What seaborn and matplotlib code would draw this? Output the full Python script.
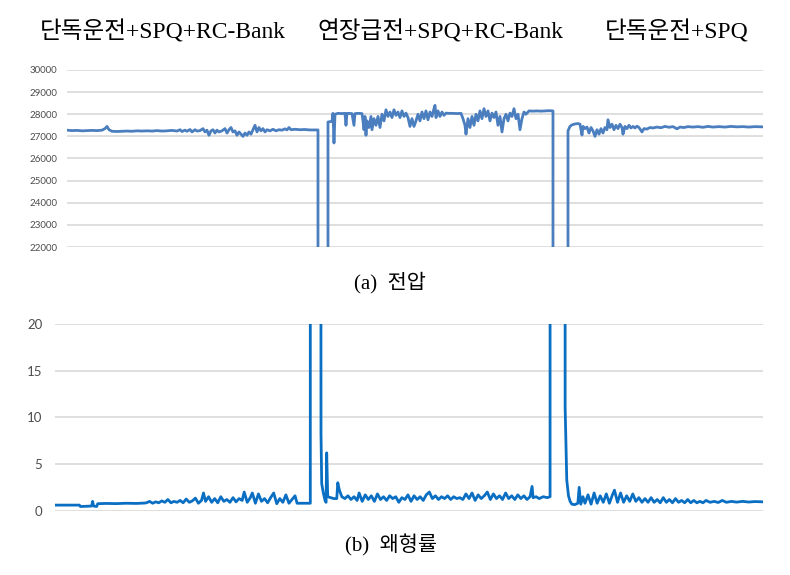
import numpy as np
import pandas as pd
import matplotlib
matplotlib.use("Agg")
import matplotlib.pyplot as plt
import seaborn as sns

sns.set_theme(style="white")
plt.rcParams['font.family'] = ['Liberation Serif', 'Noto Sans CJK KR', 'DejaVu Sans']

# -----------------------------
# Data
# -----------------------------
titles = ["단독운전+SPQ+RC-Bank", "연장급전+SPQ+RC-Bank", "단독운전+SPQ"]
caption_a = "(a)  전압"
caption_b = "(b)  왜형률"

volt_ticks = [22000, 23000, 24000, 25000, 26000, 27000, 28000, 29000, 30000]
thd_ticks = [0, 5, 10, 15, 20]

# voltage [V]; 0 = supply interrupted (drawn off the bottom of the axis)
volt_t = [0, 5, 10, 15, 20, 25, 30, 35, 38, 40, 42, 45, 50, 55, 60, 65, 70, 75, 80, 85,
          90, 95, 100, 105, 110, 113, 115, 118, 120, 123, 125, 128, 130, 133, 136, 138, 140, 142, 144, 146,
          148, 150, 152, 155, 158, 160, 162, 164, 166, 168, 170, 172, 174, 176, 178, 180, 182, 184, 186, 188,
          190, 192, 194, 196, 198, 200, 203, 206, 209, 212, 215, 218, 220, 222, 224, 228, 233, 238, 243, 251,
          251, 261,
          261, 265, 266, 267, 268, 271, 275, 278, 279, 280, 285, 287, 288, 292, 295, 296, 297, 298, 299, 300,
          302, 304, 305, 307, 309, 311, 313, 315, 317, 319, 321, 323, 325, 327, 329, 331, 333, 335, 337, 339,
          341, 343, 345, 347, 349, 351, 353, 355, 357, 359, 361, 363, 365, 367, 368, 369, 371, 373, 375, 377,
          379, 382, 386, 390, 394, 396, 398, 399, 401, 403, 405, 407, 409, 411, 413, 415, 417, 419, 421, 423,
          425, 427, 429, 431, 433, 435, 437, 439, 441, 443, 445, 447, 449, 451, 453, 455, 457, 459, 462, 466,
          470, 474, 478, 482, 486,
          486, 501,
          501, 503, 505, 508, 511, 513, 514, 515, 516, 518, 520, 522, 524, 526, 528, 530, 532, 534, 536, 538,
          540, 541, 543, 545, 547, 549, 551, 553, 555, 556, 558, 560, 562, 564, 566, 568, 570, 572, 575, 577,
          580, 583, 586, 590, 594, 598, 602, 606, 610, 613, 617, 621, 626, 631, 636, 641, 646, 652, 658, 664,
          670, 676, 682, 688, 696]
volt_v = [27280, 27260, 27270, 27250, 27260, 27270, 27260, 27280, 27350, 27450, 27300, 27230, 27220, 27230, 27240, 27230, 27250, 27240, 27250, 27240,
          27260, 27240, 27250, 27270, 27240, 27300, 27220, 27280, 27230, 27310, 27200, 27300, 27240, 27260, 27350, 27200, 27280, 27050, 27250, 27300,
          27150, 27280, 27200, 27250, 27350, 27150, 27300, 27400, 27200, 27250, 27050, 27200, 27100, 27000, 27150, 27050, 27200, 27100, 27300, 27500,
          27200, 27400, 27250, 27350, 27200, 27300, 27250, 27320, 27250, 27300, 27280, 27340, 27290, 27400, 27300, 27320, 27300, 27310, 27290, 27290,
          0, 0,
          27650, 27680, 28040, 26700, 28000, 28040, 28030, 28040, 27500, 28040, 28030, 27500, 28030, 28040, 28030, 27700, 27300, 27900, 27050, 27700,
          27400, 27900, 27300, 27800, 27500, 27900, 27400, 28000, 27700, 28200, 27900, 28100, 27850, 28200, 27950, 28100, 27850, 28150, 27900, 28050,
          27850, 27450, 27800, 27450, 27700, 28000, 27700, 28100, 27800, 28150, 27750, 28100, 27900, 28250, 28400, 27850, 28150, 27900, 28100, 27950,
          28050, 28040, 28040, 28030, 28040, 27800, 27500, 27100, 27800, 27400, 27900, 27500, 28000, 27700, 28150, 27800, 28250, 27900, 28150, 27700,
          28050, 27850, 28100, 27500, 27900, 27200, 27800, 28000, 27700, 28050, 27900, 28250, 27800, 28000, 27300, 27800, 28100, 28000, 28150, 28140,
          28150, 28140, 28150, 28160, 28150,
          0, 0,
          27250, 27450, 27520, 27560, 27580, 27550, 27300, 27060, 27450, 27350, 27420, 27150, 27400, 27250, 27000, 27300, 27100, 27350, 27150, 27400,
          27300, 27750, 27400, 27550, 27300, 27500, 27350, 27550, 27400, 27100, 27450, 27350, 27500, 27380, 27450, 27380, 27460, 27400, 27200, 27350,
          27330, 27400, 27380, 27420, 27390, 27450, 27410, 27440, 27340, 27420, 27400, 27440, 27420, 27440, 27410, 27450, 27420, 27440, 27420, 27450,
          27430, 27440, 27420, 27440, 27430]

# total harmonic distortion [%]; 100 = off the top of the axis during interruption
thd_t = [0, 24, 25, 36, 37, 38, 41, 42, 50, 60, 70, 80, 88,
         90, 93, 96, 99, 102, 105, 108, 111, 114, 117, 120, 123, 126, 129, 132, 135, 138, 141, 144, 146,
         148, 151, 154, 157, 160, 163, 166, 169, 172, 175, 178, 181, 184, 186, 189, 192, 194, 197, 200, 203,
         206, 209, 212, 215, 218, 221, 224, 227, 230, 233, 236, 238, 242, 251,
         251, 261.2,
         261.5, 262.2, 263.8, 265.5, 266.5, 267.1, 268.1, 271, 274, 277, 278, 279.6, 282,
         285, 288, 291, 294, 297, 299, 302, 305, 308, 311, 314, 317, 320, 323, 326, 329, 332, 335, 338, 341,
         344, 347, 350, 353, 356, 359, 362, 365, 368, 371, 374, 377, 380, 383, 386, 389, 392, 395, 398, 401,
         404, 407, 410, 413, 416, 419, 422, 425, 428, 431, 434, 437, 440, 443, 446, 449, 452, 455, 458, 461,
         464, 467, 469, 470, 473, 476, 480, 484, 486.7,
         486.7, 501.5,
         501.5, 503.1, 504.8, 506.4, 508.1, 511, 514, 515.3, 516.9, 519, 521, 524, 527, 530, 533, 536, 539, 542,
         545, 548, 550, 553, 556, 559, 562, 565, 568, 571, 574, 577, 580, 583, 586, 589, 592, 595, 598, 601,
         604, 607, 610, 613, 616, 619, 622, 625, 628, 631, 634, 637, 640, 644, 648, 652, 656, 660, 665, 670,
         676, 682, 688, 696]
thd_v = [0.6, 0.6, 0.45, 0.5, 1.0, 0.5, 0.45, 0.75, 0.78, 0.76, 0.8, 0.78, 0.82,
         0.85, 1.0, 0.8, 0.95, 0.85, 1.05, 0.9, 1.2, 0.85, 1.0, 0.9, 1.1, 0.85, 1.25, 0.9, 1.05, 1.35, 0.8, 1.1, 1.9,
         1.0, 1.5, 0.9, 1.3, 0.85, 1.5, 1.0, 1.2, 0.9, 1.4, 0.95, 1.3, 1.1, 2.0, 0.9, 1.4, 1.9, 0.8, 1.8, 1.0,
         1.3, 0.85, 1.4, 1.9, 0.75, 1.3, 0.9, 1.7, 0.8, 1.2, 1.6, 0.8, 0.8, 0.8,
         100, 100,
         8.3, 2.9, 1.9, 1.1, 0.9, 6.2, 1.5, 1.4, 1.3, 1.3, 3.0, 2.2, 1.5,
         1.3, 1.6, 1.2, 1.5, 1.1, 1.9, 1.0, 1.7, 1.2, 1.6, 1.0, 1.8, 1.2, 1.5, 1.1, 1.6, 1.3, 1.5, 0.9, 1.4,
         1.2, 1.7, 1.0, 1.6, 1.2, 1.5, 1.1, 1.7, 2.0, 1.3, 1.6, 1.2, 1.5, 1.3, 1.6, 1.2, 1.5, 1.3, 1.4, 1.2,
         1.8, 1.3, 1.9, 1.1, 1.7, 1.3, 1.6, 2.0, 1.2, 1.8, 1.3, 1.6, 1.2, 1.9, 1.3, 1.6, 1.2, 1.7, 1.3, 1.6,
         1.2, 1.5, 2.6, 1.4, 1.5, 1.3, 1.5, 1.4, 1.5,
         100, 100,
         11.1, 3.3, 1.6, 1.0, 0.7, 0.65, 0.8, 2.5, 0.7, 1.5, 0.8, 1.7, 0.7, 1.9, 0.8, 1.6, 0.9, 1.8,
         0.8, 1.7, 2.2, 0.9, 1.9, 0.9, 1.6, 1.0, 1.8, 1.0, 1.4, 0.9, 1.3, 0.9, 1.4, 0.9, 1.2, 0.85, 1.4, 0.9,
         1.2, 0.85, 1.3, 0.9, 1.1, 0.85, 1.2, 0.85, 1.1, 0.85, 1.0, 0.85, 1.1, 0.9, 1.0, 0.88, 1.1, 0.9, 1.0, 0.92,
         1.0, 0.93, 0.98, 0.95]

df_volt = pd.DataFrame({"t": volt_t, "V": volt_v})
df_thd = pd.DataFrame({"t": thd_t, "THD": thd_v})

# -----------------------------
# Figure
# -----------------------------
fig = plt.figure(figsize=(7.9, 5.75), dpi=100)
ax1 = fig.add_axes([0.0848, 0.5704, 0.881, 0.3079])
ax2 = fig.add_axes([0.0696, 0.1118, 0.8962, 0.3247])

grid_col = "#d9d9d9"
tick_col = "#4d4d4d"

# (a) voltage
sns.lineplot(data=df_volt, x="t", y="V", ax=ax1, estimator=None, sort=False,
             color="#4a7ebf", lw=2.0)
ax1.set_ylim(22000, 30000)
ax1.set_xlim(0, 696)
ax1.set_yticks(volt_ticks)
ax1.tick_params(axis="y", labelsize=7, colors=tick_col, length=0, pad=7)
for lab in ax1.get_yticklabels():
    lab.set_family("Lato")

# (b) THD
sns.lineplot(data=df_thd, x="t", y="THD", ax=ax2, estimator=None, sort=False,
             color="#0a6fc2", lw=2.0)
ax2.set_ylim(0, 20)
ax2.set_xlim(0, 696)
ax2.set_yticks(thd_ticks)
ax2.tick_params(axis="y", labelsize=9.5, colors=tick_col, length=0, pad=9)
for lab in ax2.get_yticklabels():
    lab.set_family("Lato")

for ax in (ax1, ax2):
    ax.set_xticks([])
    ax.set_xlabel("")
    ax.set_ylabel("")
    ax.yaxis.grid(True, color=grid_col, lw=1.2)
    ax.set_axisbelow(True)
    for s in ax.spines.values():
        s.set_visible(False)

# headings over the three operating intervals
for x, txt in zip([0.206, 0.557, 0.856], titles):
    fig.text(x, 0.944, txt, ha="center", va="center", fontsize=17, color="black")

fig.text(0.494, 0.508, caption_a, ha="center", va="center", fontsize=15, color="black")
fig.text(0.495, 0.052, caption_b, ha="center", va="center", fontsize=15, color="black")

fig.savefig("out.png", dpi=100)
